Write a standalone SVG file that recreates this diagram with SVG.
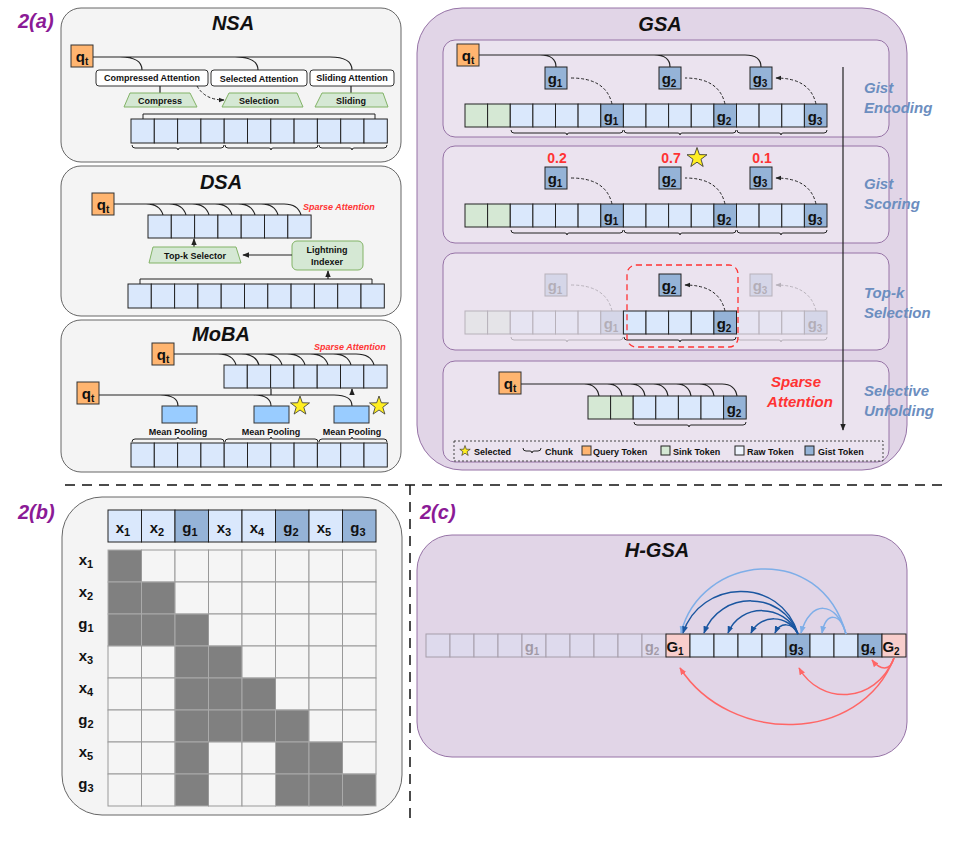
<svg xmlns="http://www.w3.org/2000/svg" width="953" height="843" viewBox="0 0 953 843">
<style>
text{font-family:"Liberation Sans",Arial,sans-serif;font-weight:bold;fill:#111}
.ttl{font-size:20px;font-style:italic;text-anchor:middle}
.lab{font-size:20px;font-style:italic;fill:#8b1a96}
.side{font-size:15px;font-style:italic;fill:#6c8ebf}
.sm{font-size:9px;text-anchor:middle}
.tk{font-size:15px;text-anchor:middle}
.pnl{fill:#f4f4f4;stroke:#666;stroke-width:1}
.gp{fill:#e1d5e7;stroke:#9673a6;stroke-width:1}
.sp{fill:#ebe3ef;stroke:#9673a6;stroke-width:1}
.raw{fill:#dae8fc;stroke:#222;stroke-width:1}
.gist{fill:#95b3d7;stroke:#222;stroke-width:1}
.sink{fill:#d5e8d4;stroke:#222;stroke-width:1}
.q{fill:#ffb570;stroke:#333;stroke-width:1}
.pink{fill:#f8cecc;stroke:#222;stroke-width:1}
.pool{fill:#99ccff;stroke:#333;stroke-width:1}
.trap{fill:#d5e8d4;stroke:#82b366;stroke-width:1}
.box{fill:#fff;stroke:#333;stroke-width:1}
.ln{fill:none;stroke:#222;stroke-width:1.2}
.dot{fill:none;stroke:#222;stroke-width:1;stroke-dasharray:3 2}
.br{fill:none;stroke:#222;stroke-width:1}
.dk{fill:#808080;stroke:#aaa;stroke-width:1}
.lt{fill:#f5f5f5;stroke:#999;stroke-width:1}
.red{fill:#ff3333}
.star{fill:#ffee22;stroke:#333;stroke-width:0.8}
</style>
<defs>
<marker id="ah" viewBox="0 0 10 10" refX="9" refY="5" markerWidth="6" markerHeight="6" orient="auto"><path d="M0,1 L10,5 L0,9 z" fill="#222"/></marker>
<marker id="ahdb" viewBox="0 0 10 10" refX="9" refY="5" markerWidth="5" markerHeight="5" orient="auto"><path d="M0,1 L10,5 L0,9 z" fill="#1a56a0"/></marker>
<marker id="ahlb" viewBox="0 0 10 10" refX="9" refY="5" markerWidth="5" markerHeight="5" orient="auto"><path d="M0,1 L10,5 L0,9 z" fill="#7eaee8"/></marker>
<marker id="ahr" viewBox="0 0 10 10" refX="9" refY="5" markerWidth="5" markerHeight="5" orient="auto"><path d="M0,1 L10,5 L0,9 z" fill="#ff6666"/></marker>
<polygon id="st" points="0,-10 2.35,-3.24 9.51,-3.09 3.8,1.24 5.88,8.09 0,4 -5.88,8.09 -3.8,1.24 -9.51,-3.09 -2.35,-3.24"/>
</defs>
<rect width="953" height="843" fill="#fff"/>

<text class="lab" x="18" y="28">2(a)</text>
<text class="lab" x="18" y="519">2(b)</text>
<text class="lab" x="420" y="519">2(c)</text>

<!-- NSA -->
<g id="nsa">
<rect class="pnl" x="61" y="8" width="340" height="154" rx="20"/>
<text class="ttl" x="233" y="30">NSA</text>
<rect class="q" x="71" y="45" width="22" height="22"/><text x="82" y="62" class="tk">q<tspan font-size="10" dy="3">t</tspan></text>
<path class="ln" d="M93 57 H120 Q142 57 142 70 M120 57 H235 Q258 57 258 70 M235 57 H330 Q352 57 352 70"/>
<rect class="box" x="96" y="70" width="112" height="16" rx="3"/><text class="sm" x="152" y="81">Compressed Attention</text>
<rect class="box" x="211" y="70" width="96" height="16" rx="3"/><text class="sm" x="259" y="82">Selected Attention</text>
<rect class="box" x="310" y="70" width="84" height="16" rx="3"/><text class="sm" x="352" y="81">Sliding Attention</text>
<path class="ln" d="M160 86 V93 M351 86 V93"/>
<path class="dot" d="M197 86 Q205 100 224 100" marker-end="url(#ah)"/>
<polygon class="trap" points="130,93 190,93 197,107 124,107"/><text class="sm" x="160" y="104">Compress</text>
<polygon class="trap" points="229,93 297,93 303,107 222,107"/><text class="sm" x="259" y="104">Selection</text>
<polygon class="trap" points="322,93 383,93 388,107 315,107"/><text class="sm" x="351" y="104">Sliding</text>
<path class="br" d="M143 119 V114 H375 V119"/>
<g class="raw">
<rect x="131" y="119" width="23.3" height="24"/><rect x="154.3" y="119" width="23.3" height="24"/><rect x="177.6" y="119" width="23.3" height="24"/><rect x="200.9" y="119" width="23.3" height="24"/><rect x="224.2" y="119" width="23.3" height="24"/><rect x="247.5" y="119" width="23.3" height="24"/><rect x="270.8" y="119" width="23.3" height="24"/><rect x="294.1" y="119" width="23.3" height="24"/><rect x="317.4" y="119" width="23.3" height="24"/><rect x="340.7" y="119" width="23.3" height="24"/><rect x="364" y="119" width="23.3" height="24"/>
</g>
<path class="br" d="M132 145 q0,3 3,3 H176 q2,0 2,2 q0,-2 2,-2 H221 q3,0 3,-3 M225 145 q0,3 3,3 H269 q2,0 2,2 q0,-2 2,-2 H315 q3,0 3,-3 M319 145 q0,3 3,3 H350 q2,0 2,2 q0,-2 2,-2 H384 q3,0 3,-3"/>
</g>

<!-- DSA -->
<g id="dsa">
<rect class="pnl" x="61" y="166" width="340" height="150" rx="20"/>
<text class="ttl" x="221" y="189">DSA</text>
<rect class="q" x="92" y="193" width="22" height="22"/><text x="103" y="210" class="tk">q<tspan font-size="10" dy="3">t</tspan></text>
<path class="ln" d="M114 204 H146 Q160 204 163 215 M146 204 H169 Q183 204 186 215 M169 204 H192 Q206 204 209 215 M192 204 H215 Q229 204 232 215 M215 204 H238 Q252 204 255 215 M238 204 H261 Q275 204 278 215 M261 204 H284 Q298 204 301 215"/>
<text x="303" y="210" font-size="9" font-style="italic" class="red">Sparse Attention</text>
<g class="raw">
<rect x="148" y="215" width="23.3" height="23"/><rect x="171.3" y="215" width="23.3" height="23"/><rect x="194.6" y="215" width="23.3" height="23"/><rect x="217.9" y="215" width="23.3" height="23"/><rect x="241.2" y="215" width="23.3" height="23"/><rect x="264.5" y="215" width="23.3" height="23"/><rect x="287.8" y="215" width="23.3" height="23"/>
</g>
<path class="ln" d="M194 247 V239" marker-end="url(#ah)"/>
<polygon class="trap" points="153,247 236,247 241,263 149,263"/><text class="sm" x="195" y="259">Top-k Selector</text>
<rect x="292" y="241" width="71" height="29" rx="5" fill="#d5e8d4" stroke="#82b366"/>
<text class="sm" x="327" y="253">Lightning</text><text class="sm" x="327" y="265">Indexer</text>
<path class="ln" d="M292 255 H243" marker-end="url(#ah)"/>
<path class="br" d="M140 284 V279 H372 V284"/>
<path class="ln" d="M328 279 V271" marker-end="url(#ah)"/>
<g class="raw">
<rect x="128" y="284" width="23.3" height="24"/><rect x="151.3" y="284" width="23.3" height="24"/><rect x="174.6" y="284" width="23.3" height="24"/><rect x="197.9" y="284" width="23.3" height="24"/><rect x="221.2" y="284" width="23.3" height="24"/><rect x="244.5" y="284" width="23.3" height="24"/><rect x="267.8" y="284" width="23.3" height="24"/><rect x="291.1" y="284" width="23.3" height="24"/><rect x="314.4" y="284" width="23.3" height="24"/><rect x="337.7" y="284" width="23.3" height="24"/><rect x="361" y="284" width="23.3" height="24"/>
</g>
</g>

<!-- MoBA -->
<g id="moba">
<rect class="pnl" x="61" y="320" width="340" height="152" rx="20"/>
<text class="ttl" x="221" y="341">MoBA</text>
<rect class="q" x="152" y="343" width="22" height="22"/><text x="163" y="360" class="tk">q<tspan font-size="10" dy="3">t</tspan></text>
<path class="ln" d="M174 354 H218 Q233 354 236 365 M218 354 H241 Q256 354 259 365 M241 354 H264 Q279 354 282 365 M264 354 H287 Q302 354 305 365 M287 354 H310 Q325 354 328 365 M310 354 H333 Q348 354 351 365 M333 354 H356 Q371 354 374 365"/>
<text x="314" y="350" font-size="9" font-style="italic" class="red">Sparse Attention</text>
<g class="raw">
<rect x="224" y="365" width="23.3" height="23"/><rect x="247.3" y="365" width="23.3" height="23"/><rect x="270.6" y="365" width="23.3" height="23"/><rect x="293.9" y="365" width="23.3" height="23"/><rect x="317.2" y="365" width="23.3" height="23"/><rect x="340.5" y="365" width="23.3" height="23"/><rect x="363.8" y="365" width="23.3" height="23"/>
</g>
<rect class="q" x="77" y="382" width="22" height="22"/><text x="88" y="399" class="tk">q<tspan font-size="10" dy="3">t</tspan></text>
<path class="ln" d="M99 395 H160 Q178 395 178 406 M160 395 H253 Q271 395 271 406 M253 395 H334 Q352 395 352 406"/>
<path class="ln" d="M271 395 V389 M352 395 V389" marker-end="url(#ah)"/>
<rect class="pool" x="162" y="406" width="35" height="17"/>
<rect class="pool" x="254" y="406" width="35" height="17"/>
<rect class="pool" x="334" y="406" width="35" height="17"/>
<use href="#st" class="star" transform="translate(300,406)"/>
<use href="#st" class="star" transform="translate(379,406)"/>
<text class="sm" x="178" y="435">Mean Pooling</text>
<text class="sm" x="271" y="435">Mean Pooling</text>
<text class="sm" x="352" y="435">Mean Pooling</text>
<path class="br" d="M132 442 q0,-3 3,-3 H176 q2,0 2,-2 q0,2 2,2 H221 q3,0 3,3 M225 442 q0,-3 3,-3 H269 q2,0 2,-2 q0,2 2,2 H315 q3,0 3,3 M319 442 q0,-3 3,-3 H350 q2,0 2,-2 q0,2 2,2 H384 q3,0 3,3"/>
<g class="raw">
<rect x="131" y="443" width="23.3" height="24"/><rect x="154.3" y="443" width="23.3" height="24"/><rect x="177.6" y="443" width="23.3" height="24"/><rect x="200.9" y="443" width="23.3" height="24"/><rect x="224.2" y="443" width="23.3" height="24"/><rect x="247.5" y="443" width="23.3" height="24"/><rect x="270.8" y="443" width="23.3" height="24"/><rect x="294.1" y="443" width="23.3" height="24"/><rect x="317.4" y="443" width="23.3" height="24"/><rect x="340.7" y="443" width="23.3" height="24"/><rect x="364" y="443" width="23.3" height="24"/>
</g>
</g>

<!-- GSA -->
<g id="gsa">
<rect class="gp" x="417" y="8" width="490" height="462" rx="45"/>
<text class="ttl" x="660" y="31">GSA</text>
<rect class="sp" x="443" y="40" width="446" height="97" rx="12"/>
<rect class="sp" x="443" y="146" width="446" height="97" rx="12"/>
<rect class="sp" x="443" y="253" width="446" height="97" rx="12"/>
<rect class="sp" x="443" y="361" width="446" height="101" rx="12"/>
<path class="ln" d="M843 67 V430" marker-end="url(#ah)"/>
<text class="side" x="864" y="93">Gist</text><text class="side" x="864" y="113">Encoding</text>
<text class="side" x="864" y="189">Gist</text><text class="side" x="864" y="209">Scoring</text>
<text class="side" x="864" y="298">Top-k</text><text class="side" x="864" y="318">Selection</text>
<text class="side" x="864" y="396">Selective</text><text class="side" x="864" y="416">Unfolding</text>
</g>

<g id="gsa-encoding">
<rect class="q" x="457" y="44" width="22" height="22"/><text x="468" y="61" class="tk">q<tspan font-size="10" dy="3">t</tspan></text>
<path class="ln" d="M479 55 H540 Q556 55 556 67 M540 55 H654 Q670 55 670 67 M654 55 H745 Q761 55 761 67"/>
<rect class="gist" x="545" y="67" width="22" height="22"/><text class="tk" x="555" y="84">g<tspan font-size="10" dy="3">1</tspan></text>
<rect class="gist" x="659" y="67" width="22" height="22"/><text class="tk" x="669" y="84">g<tspan font-size="10" dy="3">2</tspan></text>
<rect class="gist" x="750" y="67" width="22" height="22"/><text class="tk" x="760" y="84">g<tspan font-size="10" dy="3">3</tspan></text>
<path class="dot" d="M612 104 Q606 78 571 78 M725 104 Q719 78 685 78 M816 104 Q810 78 776 78" marker-end="url(#ah)"/>
<g>
<rect class="sink" x="465" y="104" width="22.6" height="23"/><rect class="sink" x="487.6" y="104" width="22.6" height="23"/>
<rect class="raw" x="510.3" y="104" width="22.6" height="23"/><rect class="raw" x="532.9" y="104" width="22.6" height="23"/><rect class="raw" x="555.5" y="104" width="22.6" height="23"/><rect class="raw" x="578.1" y="104" width="22.6" height="23"/><rect class="gist" x="600.8" y="104" width="22.6" height="23"/>
<rect class="raw" x="623.4" y="104" width="22.6" height="23"/><rect class="raw" x="646" y="104" width="22.6" height="23"/><rect class="raw" x="668.6" y="104" width="22.6" height="23"/><rect class="raw" x="691.3" y="104" width="22.6" height="23"/><rect class="gist" x="713.9" y="104" width="22.6" height="23"/>
<rect class="raw" x="736.5" y="104" width="22.6" height="23"/><rect class="raw" x="759.1" y="104" width="22.6" height="23"/><rect class="raw" x="781.8" y="104" width="22.6" height="23"/><rect class="gist" x="804.4" y="104" width="22.6" height="23"/>
</g>
<text class="tk" x="611" y="122">g<tspan font-size="10" dy="3">1</tspan></text>
<text class="tk" x="724" y="122">g<tspan font-size="10" dy="3">2</tspan></text>
<text class="tk" x="815" y="122">g<tspan font-size="10" dy="3">3</tspan></text>
<path class="br" d="M511 130 q0,3 3,3 H565 q2,0 2,2 q0,-2 2,-2 H620 q3,0 3,-3 M624 130 q0,3 3,3 H678 q2,0 2,2 q0,-2 2,-2 H733 q3,0 3,-3 M737 130 q0,3 3,3 H779 q2,0 2,2 q0,-2 2,-2 H824 q3,0 3,-3"/>
</g>

<g id="gsa-scoring">
<text x="557" y="163" font-size="14" text-anchor="middle" class="red">0.2</text>
<text x="671" y="163" font-size="14" text-anchor="middle" class="red">0.7</text>
<text x="762" y="163" font-size="14" text-anchor="middle" class="red">0.1</text>
<use href="#st" class="star" transform="translate(697,158) scale(1.05)"/>
<rect class="gist" x="545" y="167" width="22" height="22"/><text class="tk" x="555" y="184">g<tspan font-size="10" dy="3">1</tspan></text>
<rect class="gist" x="659" y="167" width="22" height="22"/><text class="tk" x="669" y="184">g<tspan font-size="10" dy="3">2</tspan></text>
<rect class="gist" x="750" y="167" width="22" height="22"/><text class="tk" x="760" y="184">g<tspan font-size="10" dy="3">3</tspan></text>
<path class="dot" d="M612 204 Q606 178 571 178 M725 204 Q719 178 685 178 M816 204 Q810 178 776 178" marker-end="url(#ah)"/>
<g>
<rect class="sink" x="465" y="204" width="22.6" height="23"/><rect class="sink" x="487.6" y="204" width="22.6" height="23"/>
<rect class="raw" x="510.3" y="204" width="22.6" height="23"/><rect class="raw" x="532.9" y="204" width="22.6" height="23"/><rect class="raw" x="555.5" y="204" width="22.6" height="23"/><rect class="raw" x="578.1" y="204" width="22.6" height="23"/><rect class="gist" x="600.8" y="204" width="22.6" height="23"/>
<rect class="raw" x="623.4" y="204" width="22.6" height="23"/><rect class="raw" x="646" y="204" width="22.6" height="23"/><rect class="raw" x="668.6" y="204" width="22.6" height="23"/><rect class="raw" x="691.3" y="204" width="22.6" height="23"/><rect class="gist" x="713.9" y="204" width="22.6" height="23"/>
<rect class="raw" x="736.5" y="204" width="22.6" height="23"/><rect class="raw" x="759.1" y="204" width="22.6" height="23"/><rect class="raw" x="781.8" y="204" width="22.6" height="23"/><rect class="gist" x="804.4" y="204" width="22.6" height="23"/>
</g>
<text class="tk" x="611" y="222">g<tspan font-size="10" dy="3">1</tspan></text>
<text class="tk" x="724" y="222">g<tspan font-size="10" dy="3">2</tspan></text>
<text class="tk" x="815" y="222">g<tspan font-size="10" dy="3">3</tspan></text>
<path class="br" d="M511 230 q0,3 3,3 H565 q2,0 2,2 q0,-2 2,-2 H620 q3,0 3,-3 M624 230 q0,3 3,3 H678 q2,0 2,2 q0,-2 2,-2 H733 q3,0 3,-3 M737 230 q0,3 3,3 H779 q2,0 2,2 q0,-2 2,-2 H824 q3,0 3,-3"/>
</g>

<g id="gsa-topk">
<g opacity="0.25">
<rect class="gist" x="545" y="274" width="22" height="22"/><text class="tk" x="555" y="291">g<tspan font-size="10" dy="3">1</tspan></text>
<rect class="gist" x="750" y="274" width="22" height="22"/><text class="tk" x="760" y="291">g<tspan font-size="10" dy="3">3</tspan></text>
<path class="dot" d="M612 311 Q606 285 571 285 M816 311 Q810 285 776 285" marker-end="url(#ah)"/>
<rect class="sink" x="465" y="311" width="22.6" height="23"/><rect class="sink" x="487.6" y="311" width="22.6" height="23"/>
<rect class="raw" x="510.3" y="311" width="22.6" height="23"/><rect class="raw" x="532.9" y="311" width="22.6" height="23"/><rect class="raw" x="555.5" y="311" width="22.6" height="23"/><rect class="raw" x="578.1" y="311" width="22.6" height="23"/><rect class="gist" x="600.8" y="311" width="22.6" height="23"/>
<rect class="raw" x="736.5" y="311" width="22.6" height="23"/><rect class="raw" x="759.1" y="311" width="22.6" height="23"/><rect class="raw" x="781.8" y="311" width="22.6" height="23"/><rect class="gist" x="804.4" y="311" width="22.6" height="23"/>
<text class="tk" x="611" y="329">g<tspan font-size="10" dy="3">1</tspan></text>
<text class="tk" x="815" y="329">g<tspan font-size="10" dy="3">3</tspan></text>
<path class="br" d="M511 337 q0,3 3,3 H565 q2,0 2,2 q0,-2 2,-2 H620 q3,0 3,-3 M737 337 q0,3 3,3 H779 q2,0 2,2 q0,-2 2,-2 H824 q3,0 3,-3"/>
</g>
<rect class="gist" x="659" y="274" width="22" height="22"/><text class="tk" x="669" y="291">g<tspan font-size="10" dy="3">2</tspan></text>
<path class="dot" d="M725 311 Q719 285 685 285" marker-end="url(#ah)"/>
<rect class="raw" x="623.4" y="311" width="22.6" height="23"/><rect class="raw" x="646" y="311" width="22.6" height="23"/><rect class="raw" x="668.6" y="311" width="22.6" height="23"/><rect class="raw" x="691.3" y="311" width="22.6" height="23"/><rect class="gist" x="713.9" y="311" width="22.6" height="23"/>
<text class="tk" x="724" y="329">g<tspan font-size="10" dy="3">2</tspan></text>
<path class="br" d="M624 337 q0,3 3,3 H678 q2,0 2,2 q0,-2 2,-2 H733 q3,0 3,-3"/>
<rect x="627" y="265" width="111" height="82" rx="9" fill="none" stroke="#ff3333" stroke-width="1.3" stroke-dasharray="6 4"/>
</g>

<g id="gsa-unfold">
<rect class="q" x="499" y="372" width="22" height="22"/><text x="510" y="389" class="tk">q<tspan font-size="10" dy="3">t</tspan></text>
<path class="ln" d="M521 384 H584 Q597 384 599 396 M584 384 H607 Q620 384 622 396 M607 384 H630 Q643 384 645 396 M630 384 H653 Q666 384 668 396 M653 384 H676 Q689 384 691 396 M676 384 H699 Q712 384 714 396 M699 384 H722 Q735 384 737 396"/>
<rect class="sink" x="588" y="396" width="22.6" height="23"/><rect class="sink" x="610.6" y="396" width="22.6" height="23"/>
<rect class="raw" x="633.2" y="396" width="22.6" height="23"/><rect class="raw" x="655.8" y="396" width="22.6" height="23"/><rect class="raw" x="678.4" y="396" width="22.6" height="23"/><rect class="raw" x="701" y="396" width="22.6" height="23"/><rect class="gist" x="723.6" y="396" width="22.6" height="23"/>
<text class="tk" x="734" y="414">g<tspan font-size="10" dy="3">2</tspan></text>
<path class="br" d="M634 422 q0,3 3,3 H687 q2,0 2,2 q0,-2 2,-2 H743 q3,0 3,-3"/>
<text x="796" y="387" font-size="15" font-style="italic" text-anchor="middle" class="red">Sparse</text>
<text x="800" y="407" font-size="15" font-style="italic" text-anchor="middle" class="red">Attention</text>
</g>

<g id="legend">
<rect x="454" y="441" width="429" height="20" fill="none" stroke="#444" stroke-dasharray="2 2"/>
<use href="#st" fill="#ffee22" stroke="#111" stroke-width="1" transform="translate(465,451) scale(0.55)"/>
<text x="474" y="455" font-size="9">Selected</text>
<path class="br" d="M523 448 q0,3 3,3 H530 q2,0 2,2 q0,-2 2,-2 H538 q3,0 3,-3"/>
<text x="545" y="455" font-size="9">Chunk</text>
<rect class="q" x="582" y="446" width="9" height="9"/><text x="593" y="455" font-size="9">Query Token</text>
<rect class="sink" x="661" y="446" width="9" height="9"/><text x="673" y="455" font-size="9">Sink Token</text>
<rect x="735" y="446" width="9" height="9" fill="#eef4fd" stroke="#222"/><text x="747" y="455" font-size="9">Raw Token</text>
<rect class="gist" x="805" y="446" width="9" height="9"/><text x="818" y="455" font-size="9">Gist Token</text>
</g>

<g id="separators">
<path d="M65 485 H945 M410 485 V820" stroke="#111" stroke-width="1.5" stroke-dasharray="10 7" fill="none"/>
</g>

<!-- 2(b) -->
<g id="mask">
<rect class="pnl" x="62" y="497" width="340" height="318" rx="40"/>
<g>
<rect class="raw" x="108" y="510" width="33.5" height="32"/><rect class="raw" x="141.5" y="510" width="33.5" height="32"/><rect class="gist" x="175" y="510" width="33.5" height="32"/><rect class="raw" x="208.5" y="510" width="33.5" height="32"/><rect class="raw" x="242" y="510" width="33.5" height="32"/><rect class="gist" x="275.5" y="510" width="33.5" height="32"/><rect class="raw" x="309" y="510" width="33.5" height="32"/><rect class="gist" x="342.5" y="510" width="33.5" height="32"/>
</g>
<g font-size="16">
<text class="tk" x="123" y="533" font-size="16">x<tspan font-size="11" dy="3">1</tspan></text>
<text class="tk" x="157" y="533" font-size="16">x<tspan font-size="11" dy="3">2</tspan></text>
<text class="tk" x="190" y="533" font-size="16">g<tspan font-size="11" dy="3">1</tspan></text>
<text class="tk" x="224" y="533" font-size="16">x<tspan font-size="11" dy="3">3</tspan></text>
<text class="tk" x="257" y="533" font-size="16">x<tspan font-size="11" dy="3">4</tspan></text>
<text class="tk" x="291" y="533" font-size="16">g<tspan font-size="11" dy="3">2</tspan></text>
<text class="tk" x="324" y="533" font-size="16">x<tspan font-size="11" dy="3">5</tspan></text>
<text class="tk" x="358" y="533" font-size="16">g<tspan font-size="11" dy="3">3</tspan></text>
</g>
<g>
<text class="tk" x="86" y="565" font-size="16">x<tspan font-size="11" dy="3">1</tspan></text>
<text class="tk" x="86" y="597" font-size="16">x<tspan font-size="11" dy="3">2</tspan></text>
<text class="tk" x="86" y="629" font-size="16">g<tspan font-size="11" dy="3">1</tspan></text>
<text class="tk" x="86" y="661" font-size="16">x<tspan font-size="11" dy="3">3</tspan></text>
<text class="tk" x="86" y="693" font-size="16">x<tspan font-size="11" dy="3">4</tspan></text>
<text class="tk" x="86" y="725" font-size="16">g<tspan font-size="11" dy="3">2</tspan></text>
<text class="tk" x="86" y="757" font-size="16">x<tspan font-size="11" dy="3">5</tspan></text>
<text class="tk" x="86" y="789" font-size="16">g<tspan font-size="11" dy="3">3</tspan></text>
</g>
<g>
<rect class="dk" x="108" y="550" width="33.5" height="32"/><rect class="lt" x="141.5" y="550" width="33.5" height="32"/><rect class="lt" x="175" y="550" width="33.5" height="32"/><rect class="lt" x="208.5" y="550" width="33.5" height="32"/><rect class="lt" x="242" y="550" width="33.5" height="32"/><rect class="lt" x="275.5" y="550" width="33.5" height="32"/><rect class="lt" x="309" y="550" width="33.5" height="32"/><rect class="lt" x="342.5" y="550" width="33.5" height="32"/>
<rect class="dk" x="108" y="582" width="33.5" height="32"/><rect class="dk" x="141.5" y="582" width="33.5" height="32"/><rect class="lt" x="175" y="582" width="33.5" height="32"/><rect class="lt" x="208.5" y="582" width="33.5" height="32"/><rect class="lt" x="242" y="582" width="33.5" height="32"/><rect class="lt" x="275.5" y="582" width="33.5" height="32"/><rect class="lt" x="309" y="582" width="33.5" height="32"/><rect class="lt" x="342.5" y="582" width="33.5" height="32"/>
<rect class="dk" x="108" y="614" width="33.5" height="32"/><rect class="dk" x="141.5" y="614" width="33.5" height="32"/><rect class="dk" x="175" y="614" width="33.5" height="32"/><rect class="lt" x="208.5" y="614" width="33.5" height="32"/><rect class="lt" x="242" y="614" width="33.5" height="32"/><rect class="lt" x="275.5" y="614" width="33.5" height="32"/><rect class="lt" x="309" y="614" width="33.5" height="32"/><rect class="lt" x="342.5" y="614" width="33.5" height="32"/>
<rect class="lt" x="108" y="646" width="33.5" height="32"/><rect class="lt" x="141.5" y="646" width="33.5" height="32"/><rect class="dk" x="175" y="646" width="33.5" height="32"/><rect class="dk" x="208.5" y="646" width="33.5" height="32"/><rect class="lt" x="242" y="646" width="33.5" height="32"/><rect class="lt" x="275.5" y="646" width="33.5" height="32"/><rect class="lt" x="309" y="646" width="33.5" height="32"/><rect class="lt" x="342.5" y="646" width="33.5" height="32"/>
<rect class="lt" x="108" y="678" width="33.5" height="32"/><rect class="lt" x="141.5" y="678" width="33.5" height="32"/><rect class="dk" x="175" y="678" width="33.5" height="32"/><rect class="dk" x="208.5" y="678" width="33.5" height="32"/><rect class="dk" x="242" y="678" width="33.5" height="32"/><rect class="lt" x="275.5" y="678" width="33.5" height="32"/><rect class="lt" x="309" y="678" width="33.5" height="32"/><rect class="lt" x="342.5" y="678" width="33.5" height="32"/>
<rect class="lt" x="108" y="710" width="33.5" height="32"/><rect class="lt" x="141.5" y="710" width="33.5" height="32"/><rect class="dk" x="175" y="710" width="33.5" height="32"/><rect class="dk" x="208.5" y="710" width="33.5" height="32"/><rect class="dk" x="242" y="710" width="33.5" height="32"/><rect class="dk" x="275.5" y="710" width="33.5" height="32"/><rect class="lt" x="309" y="710" width="33.5" height="32"/><rect class="lt" x="342.5" y="710" width="33.5" height="32"/>
<rect class="lt" x="108" y="742" width="33.5" height="32"/><rect class="lt" x="141.5" y="742" width="33.5" height="32"/><rect class="dk" x="175" y="742" width="33.5" height="32"/><rect class="lt" x="208.5" y="742" width="33.5" height="32"/><rect class="lt" x="242" y="742" width="33.5" height="32"/><rect class="dk" x="275.5" y="742" width="33.5" height="32"/><rect class="dk" x="309" y="742" width="33.5" height="32"/><rect class="lt" x="342.5" y="742" width="33.5" height="32"/>
<rect class="lt" x="108" y="774" width="33.5" height="32"/><rect class="lt" x="141.5" y="774" width="33.5" height="32"/><rect class="dk" x="175" y="774" width="33.5" height="32"/><rect class="lt" x="208.5" y="774" width="33.5" height="32"/><rect class="lt" x="242" y="774" width="33.5" height="32"/><rect class="dk" x="275.5" y="774" width="33.5" height="32"/><rect class="dk" x="309" y="774" width="33.5" height="32"/><rect class="dk" x="342.5" y="774" width="33.5" height="32"/>
</g>
</g>

<!-- 2(c) H-GSA -->
<g id="hgsa">
<rect class="gp" x="417" y="535" width="490" height="222" rx="35" fill="#e6dbe9"/>
<text class="ttl" x="657" y="557">H-GSA</text>
<g opacity="0.3">
<rect class="raw" x="426" y="634" width="24" height="23" fill="#e8e0f0"/><rect class="raw" x="450" y="634" width="24" height="23"/><rect class="raw" x="474" y="634" width="24" height="23"/><rect class="raw" x="498" y="634" width="24" height="23"/><rect class="raw" x="522" y="634" width="24" height="23"/><rect class="raw" x="546" y="634" width="24" height="23"/><rect class="raw" x="570" y="634" width="24" height="23"/><rect class="raw" x="594" y="634" width="24" height="23"/><rect class="raw" x="618" y="634" width="24" height="23"/><rect class="raw" x="642" y="634" width="24" height="23"/>
<text class="tk" x="532" y="652">g<tspan font-size="10" dy="3">1</tspan></text>
<text class="tk" x="652" y="652">g<tspan font-size="10" dy="3">2</tspan></text>
</g>
<rect class="pink" x="666" y="634" width="24" height="23"/>
<rect class="raw" x="690" y="634" width="24" height="23"/><rect class="raw" x="714" y="634" width="24" height="23"/><rect class="raw" x="738" y="634" width="24" height="23"/><rect class="raw" x="762" y="634" width="24" height="23"/>
<rect class="gist" x="786" y="634" width="24" height="23"/>
<rect class="raw" x="810" y="634" width="24" height="23"/><rect class="raw" x="834" y="634" width="24" height="23"/>
<rect class="gist" x="858" y="634" width="24" height="23"/>
<rect class="pink" x="882" y="634" width="24" height="23"/>
<text class="tk" x="675" y="652">G<tspan font-size="10" dy="3">1</tspan></text>
<text class="tk" x="796" y="652">g<tspan font-size="10" dy="3">3</tspan></text>
<text class="tk" x="868" y="652">g<tspan font-size="10" dy="3">4</tspan></text>
<text class="tk" x="891" y="652">G<tspan font-size="10" dy="3">2</tspan></text>
</g>

<g id="connectors">
<g fill="none" stroke="#7eaee8" stroke-width="1.5" marker-end="url(#ahlb)">
<path d="M846 634 C820 540, 700 555, 681 633"/>
<path d="M846 634 C836 600, 810 600, 801 633"/>
<path d="M846 634 C840 612, 826 612, 822 633"/>
</g>
<g fill="none" stroke="#1a56a0" stroke-width="1.5" marker-end="url(#ahdb)">
<path d="M798 634 C780 575, 700 580, 683 633"/>
<path d="M798 634 C782 590, 720 590, 704 633"/>
<path d="M798 634 C784 603, 740 603, 728 633"/>
<path d="M798 634 C788 614, 760 614, 751 633"/>
<path d="M798 634 C792 622, 780 622, 775 633"/>
</g>
<g fill="none" stroke="#ff6666" stroke-width="1.5" marker-end="url(#ahr)">
<path d="M894 658 C890 672, 880 670, 872 660"/>
<path d="M894 658 C875 705, 820 705, 799 668"/>
<path d="M894 658 C860 745, 730 745, 680 668"/>
</g>
</g>
</svg>
